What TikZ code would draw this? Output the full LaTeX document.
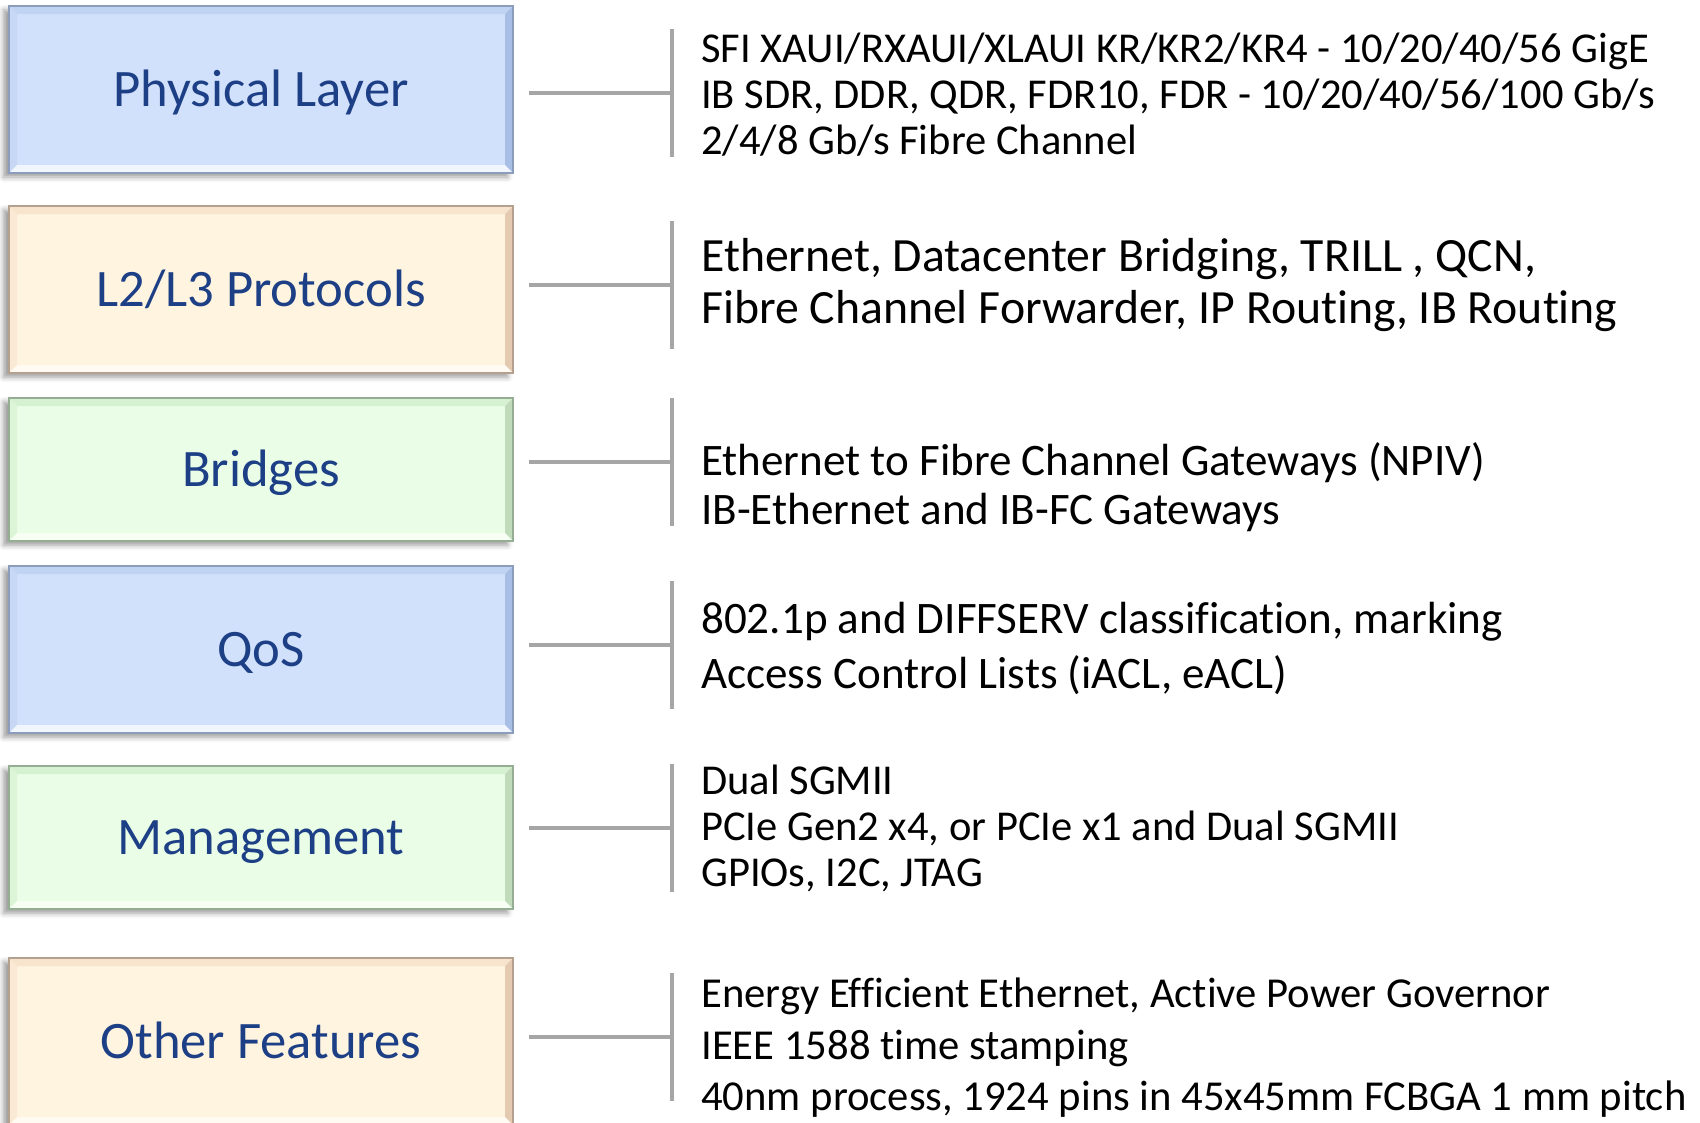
\documentclass[tikz,border=0pt]{standalone}
\usepackage{fontspec}
\setmainfont{Carlito}[Ligatures=NoCommon]
\usetikzlibrary{shadows.blur}

% colour schemes for the bevelled layer boxes
\definecolor{BlueFill}{HTML}{D1E1FB}
\definecolor{BlueTop}{HTML}{C0D3F3}
\definecolor{BlueLeft}{HTML}{C6D8F6}
\definecolor{BlueRight}{HTML}{A9BEE4}
\definecolor{BlueBottom}{HTML}{F1F5FE}
\definecolor{BlueLine}{HTML}{8C9CBB}
\definecolor{BeigeFill}{HTML}{FFF4DF}
\definecolor{BeigeTop}{HTML}{F7E4CD}
\definecolor{BeigeLeft}{HTML}{FAE9D4}
\definecolor{BeigeRight}{HTML}{E4CAB1}
\definecolor{BeigeBottom}{HTML}{FFFBF3}
\definecolor{BeigeLine}{HTML}{B3A08E}
\definecolor{GreenFill}{HTML}{EAFDE7}
\definecolor{GreenTop}{HTML}{D6F1D1}
\definecolor{GreenLeft}{HTML}{DCF5D7}
\definecolor{GreenRight}{HTML}{BFDBB9}
\definecolor{GreenBottom}{HTML}{F7FFF5}
\definecolor{GreenLine}{HTML}{95AD92}
\definecolor{labelblue}{HTML}{1D3F86}
\definecolor{conngray}{HTML}{A6A6A6}

\tikzset{
  layer/.style={
    draw=#1Line, line width=0.9pt, fill=#1Fill,
    minimum width=378pt, inner sep=0pt,
    font=\fontsize{39.5}{46}\selectfont, text=labelblue,
    text height=25.3pt, text depth=0pt,
    blur shadow={shadow xshift=-4pt, shadow yshift=-3pt,
                 shadow blur radius=4pt, shadow opacity=40},
    path picture={
      \coordinate (nw) at (path picture bounding box.north west);
      \coordinate (ne) at (path picture bounding box.north east);
      \coordinate (sw) at (path picture bounding box.south west);
      \coordinate (se) at (path picture bounding box.south east);
      \fill[#1Top] (nw) -- (ne) -- ([shift={(-6pt,-6pt)}]ne) -- ([shift={(6pt,-6pt)}]nw) -- cycle;
      \fill[#1Left] (nw) -- ([shift={(6pt,-6pt)}]nw) -- ([shift={(6pt,6pt)}]sw) -- (sw) -- cycle;
      \fill[#1Right] (ne) -- ([shift={(-6pt,-6pt)}]ne) -- ([shift={(-6pt,6pt)}]se) -- (se) -- cycle;
      \fill[#1Bottom] (sw) -- ([shift={(6pt,6pt)}]sw) -- ([shift={(-6pt,6pt)}]se) -- (se) -- cycle;
    }
  },
  tall/.style={minimum height=125.25pt},
  short/.style={minimum height=107.25pt},
  conn/.style={draw=conngray, line width=2.3pt},
  info/.style={anchor=west, align=left, text=black, inner sep=0pt},
  small/.style={font=\fontsize{31.9}{34.5}\selectfont},
}

\begin{document}
\begin{tikzpicture}[x=0.75pt, y=-0.75pt]
\useasboundingbox (0,0) rectangle (1700,1122);

% layer boxes
\node[layer=Blue,  tall]  (phy)  at (261,89.5)  {Physical Layer};
\node[layer=Beige, tall]  (l23)  at (261,289.5) {L2/L3 Protocols};
\node[layer=Green, short] (brg)  at (261,469.5) {Bridges};
\node[layer=Blue,  tall]  (qos)  at (261,649.5) {QoS};
\node[layer=Green, short] (mgmt) at (261,837.5) {Management};
\node[layer=Beige, tall]  (oth)  at (261,1041.5) {Other Features};

% bracket joints
\coordinate (s1) at (529,93);   \coordinate (b1) at (672,93);
\coordinate (s2) at (529,285);  \coordinate (b2) at (672,285);
\coordinate (s3) at (529,462);  \coordinate (b3) at (672,462);
\coordinate (s4) at (529,645);  \coordinate (b4) at (672,645);
\coordinate (s5) at (529,828);  \coordinate (b5) at (672,828);
\coordinate (s6) at (529,1037); \coordinate (b6) at (672,1037);

\foreach \i in {1,...,6}{
  \draw[conn] (s\i) -- (b\i);
  \draw[conn] ([yshift=48pt]b\i) -- ([yshift=-48pt]b\i);
}

% feature lists
\node[info, small] (t1) at (701,95)
  {SFI XAUI/RXAUI/XLAUI KR/KR2/KR4 - 10/20/40/56 GigE\\
   IB SDR, DDR, QDR, FDR10, FDR - 10/20/40/56/100 Gb/s\\
   2/4/8 Gb/s Fibre Channel};
\node[info, font=\fontsize{35.8}{39}\selectfont] (t2) at (701,285)
  {Ethernet, Datacenter Bridging, TRILL , QCN,\\
   Fibre Channel Forwarder, IP Routing, IB Routing};
\node[info, font=\fontsize{33.8}{36.8}\selectfont] (t3) at (701,487.5)
  {Ethernet to Fibre Channel Gateways (NPIV)\\
   IB-Ethernet and IB-FC Gateways};
\node[info, font=\fontsize{33.8}{41.2}\selectfont] (t4) at (701,648.5)
  {802.1p and DIFFSERV classification, marking\\
   Access Control Lists (iACL, eACL)};
\node[info, small] (t5) at (701,828)
  {Dual SGMII\\
   PCIe Gen2 x4, or PCIe x1 and Dual SGMII\\
   GPIOs, I2C, JTAG};
\node[info, font=\fontsize{32}{38.6}\selectfont] (t6) at (701,1048)
  {Energy Efficient Ethernet, Active Power Governor\\
   IEEE 1588 time stamping\\
   40nm process, 1924 pins in 45x45mm FCBGA 1 mm pitch};
\end{tikzpicture}
\end{document}
